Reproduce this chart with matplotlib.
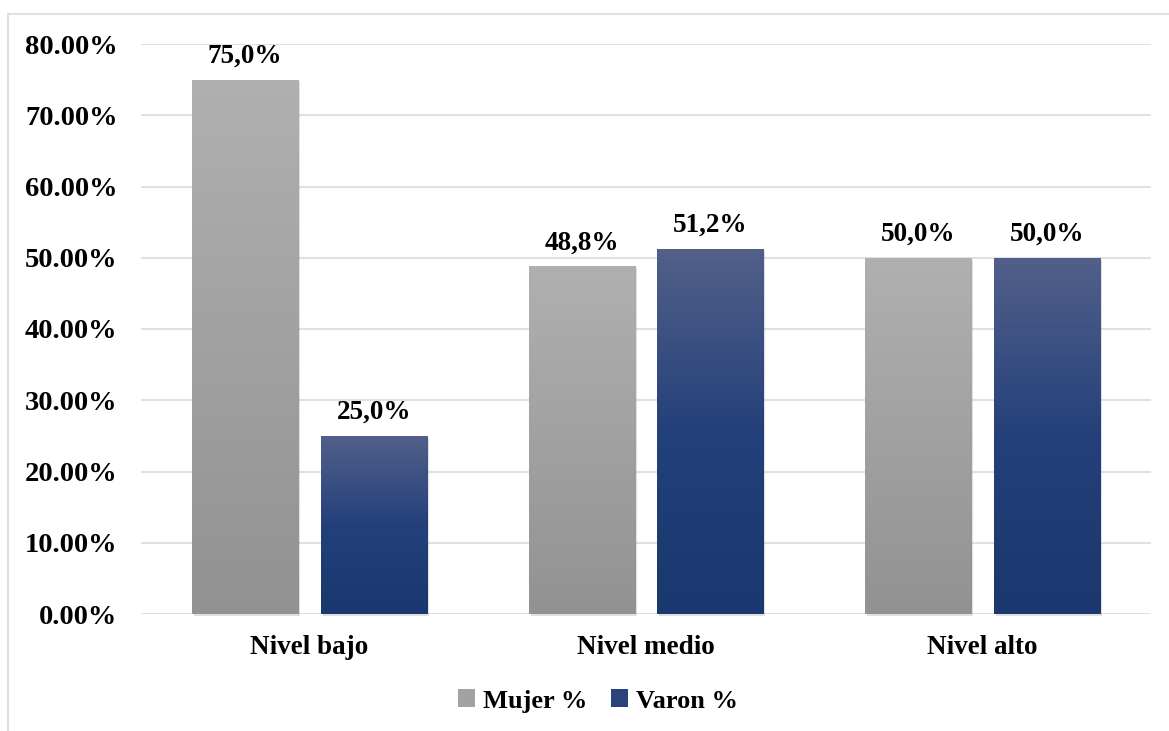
import numpy as np
import matplotlib
matplotlib.use('Agg')
import matplotlib.pyplot as plt
import matplotlib.transforms as mtransforms
from matplotlib.colors import LinearSegmentedColormap
from matplotlib.patches import Rectangle, Patch

categorias = ['Nivel bajo', 'Nivel medio', 'Nivel alto']
mujer = [75.0, 48.8, 50.0]
varon = [25.0, 51.2, 50.0]
series = ['Mujer %', 'Varon %']

plt.rcParams['font.family'] = ['Liberation Serif', 'DejaVu Serif']
plt.rcParams['font.weight'] = 'bold'

gris = LinearSegmentedColormap.from_list('gris', ['#929292', '#B0B0B0'])
azul = LinearSegmentedColormap.from_list('azul', ['#1B376F', '#24407A', '#52608A'])

fig = plt.figure(figsize=(11.69, 7.31), dpi=100)
W, H = 1169, 731
ax = fig.add_axes([141 / W, 1 - 614 / H, (1151 - 141) / W, (614 - 44) / H])

# marco exterior del grafico
fig.patches.append(Rectangle((8 / W, -0.1), 1.2, 1 - 14 / H + 0.1, transform=fig.transFigure,
                             fill=False, edgecolor='#DDE1E7', linewidth=1.5))

x = np.arange(len(categorias))
ancho = 0.315
desp = 0.1915

grad = np.linspace(0, 1, 256).reshape(-1, 1)
sombra = mtransforms.offset_copy(ax.transData, fig=fig, x=2, y=-2, units='dots')

for valores, cmap, d in [(mujer, gris, -desp), (varon, azul, desp)]:
    for xi, v in zip(x, valores):
        x0 = xi + d - ancho / 2
        ax.add_patch(Rectangle((x0, 0), ancho, v, transform=sombra, color='#000000',
                               alpha=0.12, linewidth=0, zorder=2, clip_on=False))
        barra = Rectangle((x0, 0), ancho, v, facecolor='none', edgecolor='none', zorder=3)
        ax.add_patch(barra)
        img = ax.imshow(grad, cmap=cmap, origin='lower', aspect='auto',
                        extent=[x0, x0 + ancho, 0, v], zorder=3)
        img.set_clip_path(barra)
        ax.annotate(f'{v:.1f}%'.replace('.', ','), (xi + d, v), xytext=(0, 8),
                    textcoords='offset points', ha='center', va='bottom',
                    fontsize=19.5, fontweight='bold')

ax.set_xlim(-0.5, 2.5)
ax.set_ylim(0, 80)
ax.set_yticks(np.arange(0, 81, 10))
ax.set_yticklabels([f'{t:.2f}%' for t in np.arange(0, 81, 10)], fontsize=20.5, fontweight='bold')
ax.set_xticks(x)
ax.set_xticklabels(categorias, fontsize=19.5, fontweight='bold')
ax.tick_params(axis='both', length=0)
ax.tick_params(axis='y', pad=17)
ax.tick_params(axis='x', pad=15)
ax.grid(axis='y', color='#DEE2E8', linewidth=1.5, zorder=0)
ax.set_axisbelow(True)
for s in ax.spines.values():
    s.set_visible(False)

handles = [Patch(facecolor='#A2A2A2', edgecolor='none'),
           Patch(facecolor='#2A4379', edgecolor='none')]
fig.legend(handles, series, loc='center', bbox_to_anchor=(598 / W, 1 - 701 / H), ncol=2,
           frameon=False, prop={'size': 19, 'weight': 'bold'}, handlelength=0.65,
           handleheight=0.65, handletextpad=0.3, columnspacing=0.9)

fig.savefig('out.png', dpi=100)
